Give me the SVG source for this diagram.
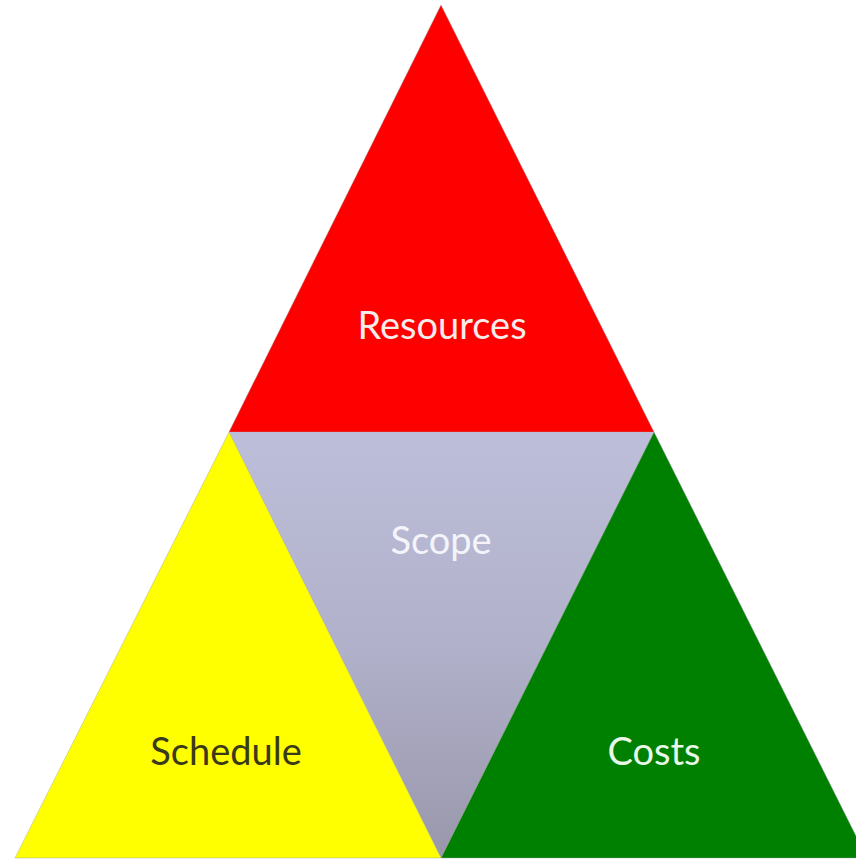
<svg xmlns="http://www.w3.org/2000/svg" width="856" height="861" viewBox="0 0 856 861">
<defs>
<linearGradient id="scopeGrad" x1="0" y1="0" x2="0" y2="1">
<stop offset="0" stop-color="#bdbed9"/>
<stop offset="0.5" stop-color="#b1b1cb"/>
<stop offset="1" stop-color="#9997ab"/>
</linearGradient>
</defs>
<style>
.lbl{font-family:Lato,"Open Sans","Liberation Sans",sans-serif;font-size:38px;text-anchor:middle}
.edge{stroke:#9a9a9a;stroke-width:0.8;stroke-opacity:0.5;stroke-linejoin:round}
</style>
<rect width="856" height="861" fill="#ffffff"/>
<g id="resources">
<polygon class="edge" points="441,5 654,432 229,432" fill="#ff0000"/>
<text class="lbl" x="442" y="339" fill="#f7ecec">Resources</text>
</g>
<g id="scope">
<polygon points="229,432 654,432 441,858" fill="url(#scopeGrad)"/>
<text class="lbl" x="441" y="554" fill="#f4f4fa">Scope</text>
</g>
<g id="schedule">
<polygon class="edge" points="229,432 441,858 15,858" fill="#ffff00"/>
<text class="lbl" x="226" y="765" fill="#3a3a1a">Schedule</text>
</g>
<g id="costs">
<polygon class="edge" points="654,432 867,858 441,858" fill="#008000"/>
<text class="lbl" x="654" y="765" fill="#eaf8ea">Costs</text>
</g>
<g id="connectors"></g>
</svg>
